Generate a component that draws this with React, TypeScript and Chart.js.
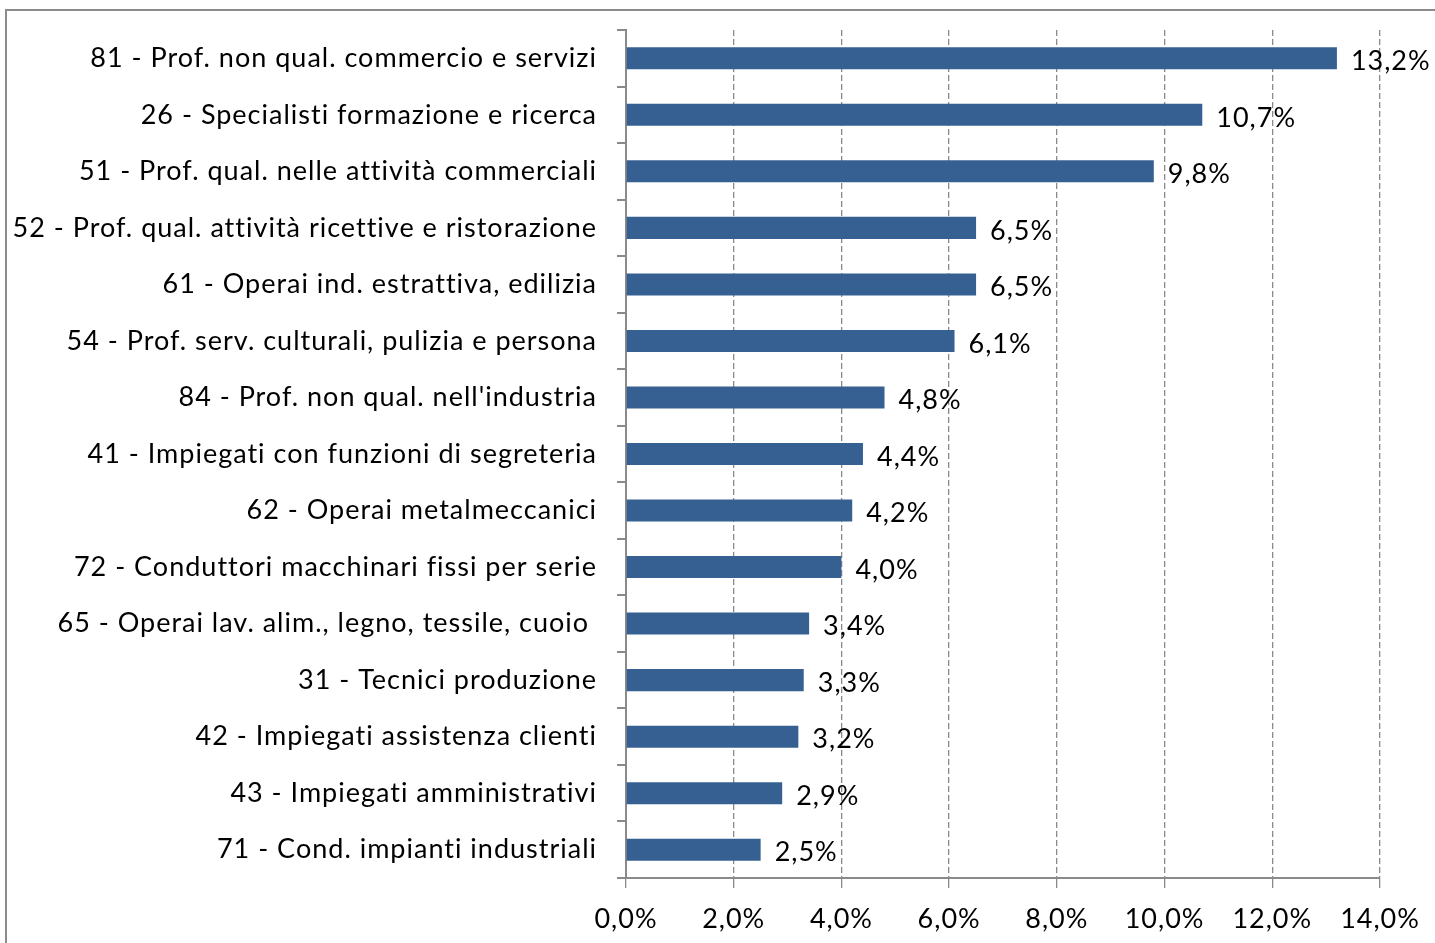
import React, { useEffect, useRef } from "react";
import { Chart, registerables } from "chart.js";

Chart.register(...registerables);

const categories = [
  "81 - Prof. non qual. commercio e servizi",
  "26 - Specialisti formazione e ricerca",
  "51 - Prof. qual. nelle attività commerciali",
  "52 - Prof. qual. attività ricettive e ristorazione",
  "61 - Operai ind. estrattiva, edilizia",
  "54 - Prof. serv. culturali, pulizia e persona",
  "84 - Prof. non qual. nell'industria",
  "41 - Impiegati con funzioni di segreteria",
  "62 - Operai metalmeccanici",
  "72 - Conduttori macchinari fissi per serie",
  "65 - Operai lav. alim., legno, tessile, cuoio ",
  "31 - Tecnici produzione",
  "42 - Impiegati assistenza clienti",
  "43 - Impiegati amministrativi",
  "71 - Cond. impianti industriali",
];

const values = [13.2, 10.7, 9.8, 6.5, 6.5, 6.1, 4.8, 4.4, 4.2, 4.0, 3.4, 3.3, 3.2, 2.9, 2.5];

const xMin = 0;
const xMax = 14;
const xStep = 2;

const FONT = "Lato, 'Open Sans', sans-serif";
const fmt = (v: number) => v.toFixed(1).replace(".", ",") + "%";

const spacing = {
  id: "spacing",
  beforeDraw(chart: any) {
    chart.ctx.letterSpacing = "1px";
  },
};

const valueLabels = {
  id: "valueLabels",
  afterDatasetsDraw(chart: any) {
    const ctx = chart.ctx;
    const meta = chart.getDatasetMeta(0);
    ctx.save();
    ctx.letterSpacing = "1px";
    ctx.font = `27px ${FONT}`;
    ctx.fillStyle = "#000";
    ctx.textAlign = "left";
    ctx.textBaseline = "middle";
    meta.data.forEach((bar: any, i: number) => {
      ctx.fillText(fmt(values[i]), bar.x + 14, bar.y + 3);
    });
    ctx.restore();
  },
};

export default function App() {
  const ref = useRef<HTMLCanvasElement | null>(null);
  useEffect(() => {
    if (!ref.current) return;
    const chart = new Chart(ref.current, {
      type: "bar",
      data: {
        labels: categories,
        datasets: [
          {
            data: values,
            backgroundColor: "#366092",
            categoryPercentage: 1,
            barPercentage: 0.39,
          },
        ],
      },
      options: {
        indexAxis: "y",
        animation: false,
        responsive: false,
        maintainAspectRatio: false,
        layout: { padding: { left: 0, right: 55, top: 30, bottom: 0 } },
        plugins: { legend: { display: false }, tooltip: { enabled: false } },
        scales: {
          x: {
            min: xMin,
            max: xMax,
            ticks: {
              stepSize: xStep,
              color: "#000",
              padding: 15,
              font: { family: FONT, size: 27 },
              callback: (v: any) => fmt(Number(v)),
            },
            grid: {
              color: "#8a8a8a",
              lineWidth: 1.3,
              tickLength: 10,
              tickColor: "#8a8a8a",
            },
            border: { color: "#8a8a8a", width: 2, dash: [6, 3] },
            afterFit: (s: any) => {
              s.height = 65;
              s.paddingLeft = 0;
              s.paddingRight = 0;
            },
          },
          y: {
            ticks: {
              color: "#000",
              padding: 20,
              autoSkip: false,
              font: { family: FONT, size: 27 },
            },
            grid: {
              drawOnChartArea: false,
              color: "#8a8a8a",
              lineWidth: 2,
              tickLength: 9,
              offset: true,
            },
            border: { color: "#8a8a8a", width: 2 },
            afterFit: (s: any) => {
              s.width = 626;
              s.paddingTop = 0;
              s.paddingBottom = 0;
            },
          },
        },
      },
      plugins: [spacing, valueLabels],
    });
    return () => chart.destroy();
  }, []);

  return (
    <div style={{ position: "absolute", left: 0, top: 0, width: 1435, height: 943, overflow: "hidden", background: "#fff" }}>
      <div
        style={{
          position: "absolute",
          left: 5,
          top: 9,
          width: 1500,
          height: 1000,
          border: "2px solid #8c8c8c",
          boxSizing: "border-box",
        }}
      />
      <canvas ref={ref} width={1435} height={943} style={{ position: "absolute", left: 0, top: 0 }} />
    </div>
  );
}
